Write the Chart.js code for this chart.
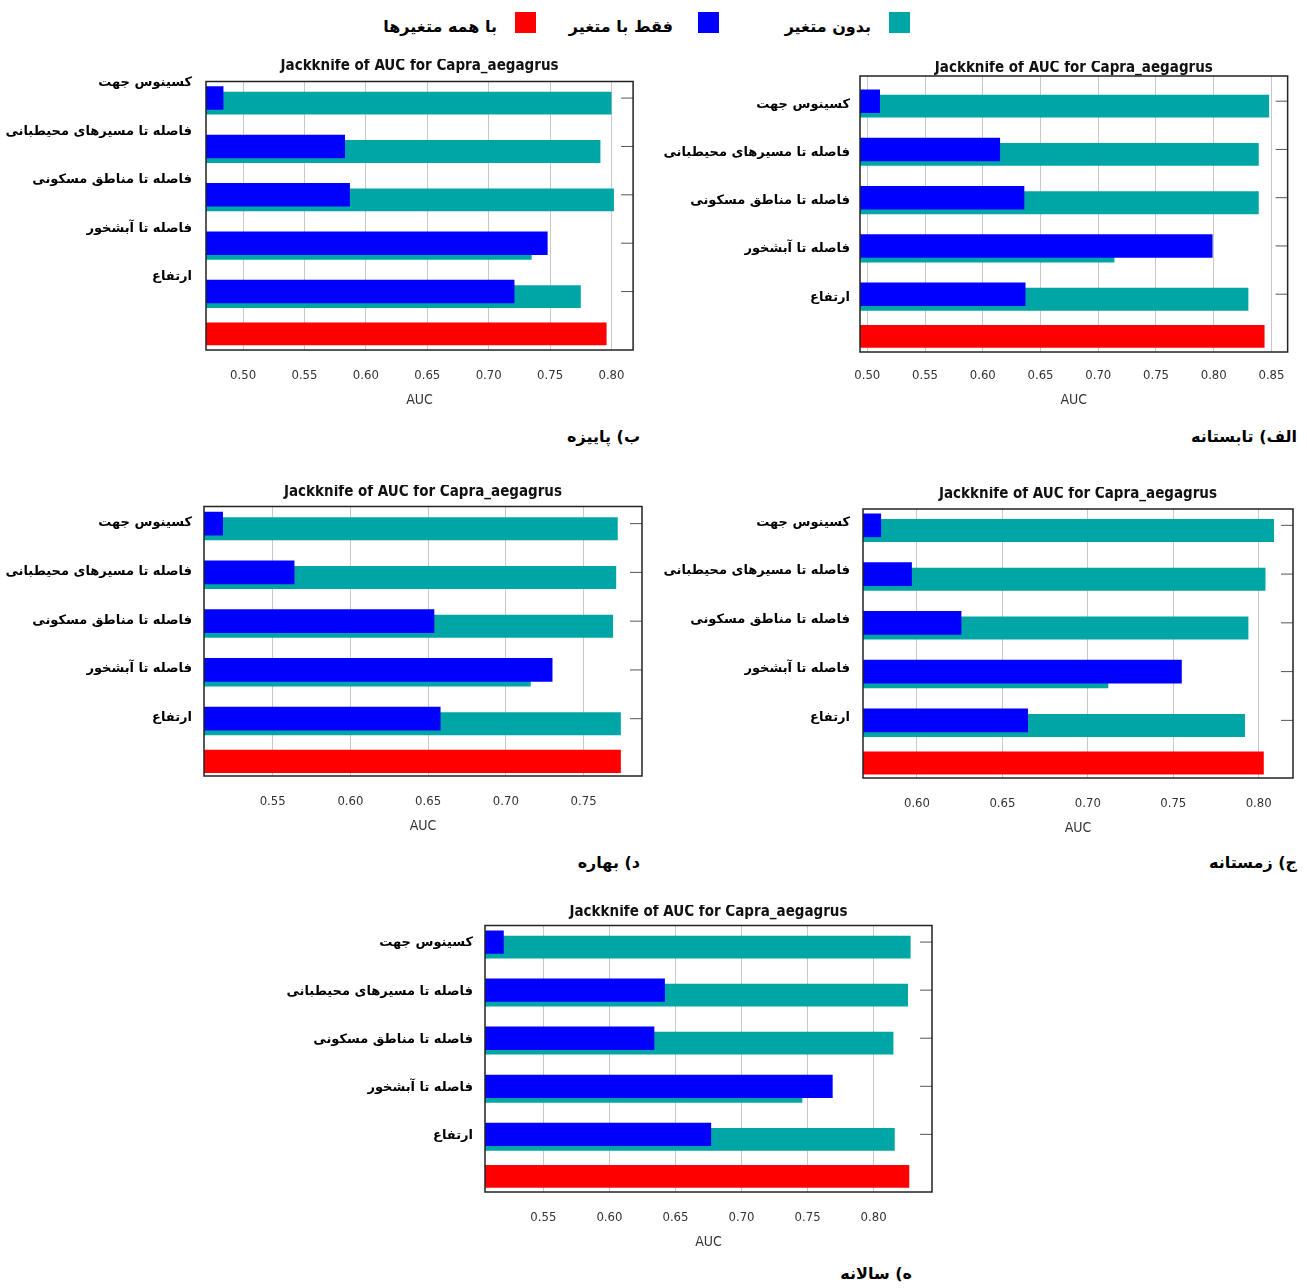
<!DOCTYPE html>
<html>
<head>
<meta charset="utf-8">
<script src="https://cdn.jsdelivr.net/npm/chart.js@4.4.0/dist/chart.umd.min.js"></script>
<style>
  body { margin: 0; background: #fff; width: 1307px; height: 1288px; position: relative; overflow: hidden; font-family: 'DejaVu Sans', sans-serif; }
  canvas { position: absolute; }
  .cap { position: absolute; direction: rtl; font-weight: bold; font-size: 16px; line-height: 20px; white-space: nowrap; color: #000; }
  .sq { position: absolute; width: 21px; height: 21px; top: 12px; }
</style>
</head>
<body>
<div class="sq" style="left:889px;background:#00a6a6"></div>
<div class="cap" id="leg0" style="right:436px;top:17px"></div>
<div class="sq" style="left:698px;background:#0000ff"></div>
<div class="cap" id="leg1" style="right:634px;top:17px"></div>
<div class="sq" style="left:515px;background:#ff0000"></div>
<div class="cap" id="leg2" style="right:810px;top:17px"></div>

<div class="cap" style="right:10px;top:427px">الف) تابستانه</div>
<div class="cap" style="right:667px;top:427px">ب) پاییزه</div>
<div class="cap" style="right:10px;top:853px">ج) زمستانه</div>
<div class="cap" style="right:667px;top:853px">د) بهاره</div>
<div class="cap" style="right:395px;top:1264px">ه) سالانه</div>

<script>
var variables = ['کسینوس جهت', 'فاصله تا مسیرهای محیطبانی', 'فاصله تا مناطق مسکونی', 'فاصله تا آبشخور', 'ارتفاع'];
var seriesNames = ['بدون متغیر', 'فقط با متغیر', 'با همه متغیرها'];
var chartTitle = 'Jackknife of AUC for Capra_aegagrus';
var axisTitle = 'AUC';

// الف) تابستانه
var summerWithout = [0.848, 0.839, 0.839, 0.714, 0.830];
var summerOnly = [0.511, 0.615, 0.636, 0.799, 0.637];
var summerAll = 0.844;
var summerTicks = [0.50, 0.55, 0.60, 0.65, 0.70, 0.75, 0.80, 0.85];

// ب) پاییزه
var autumnWithout = [0.800, 0.791, 0.802, 0.735, 0.775];
var autumnOnly = [0.484, 0.583, 0.587, 0.748, 0.721];
var autumnAll = 0.796;
var autumnTicks = [0.50, 0.55, 0.60, 0.65, 0.70, 0.75, 0.80];

// ج) زمستانه
var winterWithout = [0.809, 0.804, 0.794, 0.712, 0.792];
var winterOnly = [0.579, 0.597, 0.626, 0.755, 0.665];
var winterAll = 0.803;
var winterTicks = [0.60, 0.65, 0.70, 0.75, 0.80];

// د) بهاره
var springWithout = [0.772, 0.771, 0.769, 0.716, 0.774];
var springOnly = [0.518, 0.564, 0.654, 0.730, 0.658];
var springAll = 0.774;
var springTicks = [0.55, 0.60, 0.65, 0.70, 0.75];

// ه) سالانه
var annualWithout = [0.828, 0.826, 0.815, 0.746, 0.816];
var annualOnly = [0.520, 0.642, 0.634, 0.769, 0.677];
var annualAll = 0.827;
var annualTicks = [0.55, 0.60, 0.65, 0.70, 0.75, 0.80];

var colors = ['#00a6a6', '#0000ff', '#ff0000'];
var narrow = "'Liberation Sans Narrow', 'DejaVu Sans Condensed', sans-serif";

document.getElementById('leg0').textContent = seriesNames[0];
document.getElementById('leg1').textContent = seriesNames[1];
document.getElementById('leg2').textContent = seriesNames[2];

// frame around the plot + short inner ticks on the right
var framePlugin = {
    id: 'frame',
    afterDatasetsDraw: function (chart) {
        var a = chart.chartArea, ctx = chart.ctx, y = chart.scales.y;
        ctx.save();
        ctx.strokeStyle = '#555';
        ctx.lineWidth = 1;
        variables.forEach(function (_, i) {
            var py = y.getPixelForValue(i);
            ctx.beginPath();
            ctx.moveTo(a.right - 12, py);
            ctx.lineTo(a.right, py);
            ctx.stroke();
        });
        ctx.strokeStyle = '#222';
        ctx.lineWidth = 1.5;
        ctx.strokeRect(a.left, a.top, a.right - a.left, a.bottom - a.top);
        ctx.restore();
    }
};

function drawPanel(p) {
    var L = Math.min(205, p.frame[0]), R = 8, B = 60, T = 17 + p.titleGap;
    var c = document.createElement('canvas');
    c.width = L + p.frame[2] - p.frame[0] + R;
    c.height = T + p.frame[3] - p.frame[1] + B;
    c.style.left = (p.frame[0] - L) + 'px';
    c.style.top = (p.frame[1] - T) + 'px';
    document.body.appendChild(c);

    new Chart(c.getContext('2d'), {
        type: 'bar',
        data: {
            datasets: [
                {label: seriesNames[2], stack: 'all', data: [{x: p.all, y: variables.length}],
                    backgroundColor: colors[2], categoryPercentage: 0.375, barPercentage: 3.78, base: p.xMin},
                {label: seriesNames[1], stack: 'only', data: p.only.map(function (v, i) { return {x: v, y: i}; }),
                    backgroundColor: colors[1], categoryPercentage: 0.3125, barPercentage: 4.66, base: p.xMin},
                {label: seriesNames[0], stack: 'without', data: p.without.map(function (v, i) { return {x: v, y: i}; }),
                    backgroundColor: colors[0], categoryPercentage: 0.3125, barPercentage: 4.54, base: p.xMin}
            ]
        },
        options: {
            indexAxis: 'y',
            responsive: false,
            animation: false,
            devicePixelRatio: 1,
            layout: {padding: {left: 0, right: R, top: 0, bottom: 0}},
            plugins: {
                legend: {display: false},
                tooltip: {enabled: false},
                title: {display: true, text: chartTitle, fullSize: false, color: '#111',
                    padding: {top: 0, bottom: p.titleGap},
                    font: {family: narrow, size: 15, weight: 'bold', lineHeight: 1}}
            },
            scales: {
                x: {
                    type: 'linear', stacked: false, offset: false, bounds: 'data', min: p.xMin, max: p.xMax,
                    afterBuildTicks: function (s) { s.ticks = p.ticks.map(function (v) { return {value: v}; }); },
                    afterFit: function (s) { s.height = B; },
                    ticks: {autoSkip: false, maxRotation: 0, padding: p.tickPad, color: '#333',
                        font: {family: narrow, size: 13},
                        callback: function (v) { return v.toFixed(2); }},
                    grid: {color: '#c8c8c8', drawTicks: false, offset: false},
                    border: {display: false},
                    title: {display: true, text: axisTitle, color: '#333', padding: {top: 0, bottom: p.aucPad},
                        font: {family: narrow, size: 14}}
                },
                y: {
                    type: 'linear', reverse: true, offset: false, bounds: 'data', min: p.yMin, max: p.yMax,
                    afterBuildTicks: function (s) { s.ticks = variables.map(function (_, i) { return {value: i}; }); },
                    afterFit: function (s) { s.width = L; },
                    ticks: {autoSkip: false, padding: p.labelPad, labelOffset: p.labelOffset, color: '#000',
                        font: {family: "'DejaVu Sans', sans-serif", size: 13, weight: 'bold'},
                        callback: function (v) { return variables[v] || ''; }},
                    grid: {display: false, offset: false},
                    border: {display: false}
                }
            }
        },
        plugins: [framePlugin]
    });
}

var panels = [
    {only: summerOnly, without: summerWithout, all: summerAll, ticks: summerTicks, frame: [860, 78, 1293, 352],
        xMin: 0.4937, xMax: 0.864, yMin: -0.522, yMax: 5.198, titleGap: 0, tickPad: 16, aucPad: 3.6, labelPad: 2, labelOffset: 3},
    {only: autumnOnly, without: autumnWithout, all: autumnAll, ticks: autumnTicks, frame: [206, 83, 635, 350],
        xMin: 0.4698, xMax: 0.8176, yMin: -0.343, yMax: 5.208, titleGap: 7.5, tickPad: 18, aucPad: 1.6, labelPad: 6, labelOffset: -15},
    {only: winterOnly, without: winterWithout, all: winterAll, ticks: winterTicks, frame: [863, 511, 1293, 778],
        xMin: 0.5684, xMax: 0.8201, yMin: -0.335, yMax: 5.182, titleGap: 7, tickPad: 18, aucPad: 1.6, labelPad: 5, labelOffset: -3},
    {only: springOnly, without: springWithout, all: springAll, ticks: springTicks, frame: [204, 508, 642, 776],
        xMin: 0.5058, xMax: 0.7876, yMin: -0.351, yMax: 5.175, titleGap: 6.5, tickPad: 18, aucPad: 1.6, labelPad: 4, labelOffset: -1},
    {only: annualOnly, without: annualWithout, all: annualAll, ticks: annualTicks, frame: [485, 927, 932, 1192],
        xMin: 0.5058, xMax: 0.8442, yMin: -0.345, yMax: 5.199, titleGap: 5.5, tickPad: 18, aucPad: 1.6, labelPad: 4, labelOffset: 1}
];

panels.forEach(drawPanel);
</script>
</body>
</html>
